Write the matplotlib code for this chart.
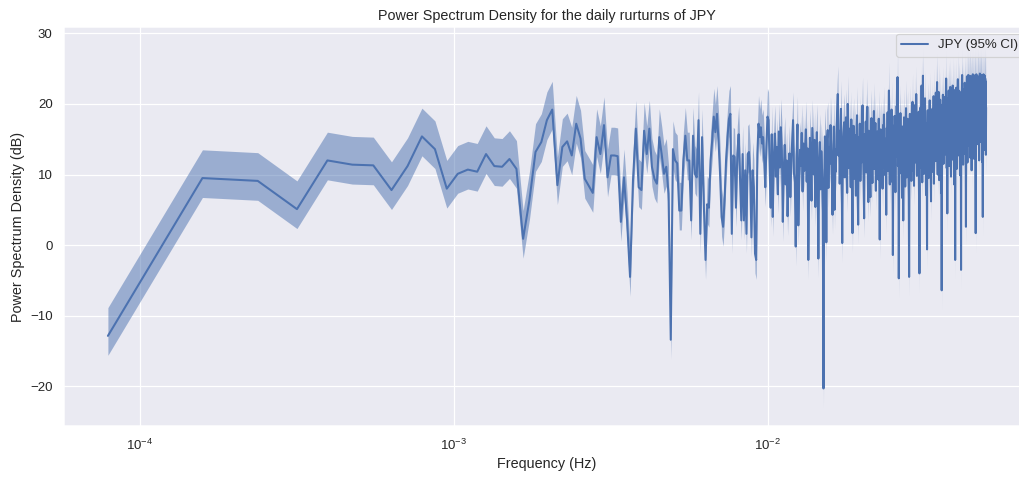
import numpy as np
import matplotlib
matplotlib.use("Agg")
import matplotlib.pyplot as plt
import seaborn as sns

# frequency grid of the periodogram (bin k -> k * freq_step)
freq_step = 7.91e-5
n_bins = 626

# power spectrum density of the daily returns, in dB, one value per bin
psd_db = [
    # k = 1 .. 130
    -12.85, 9.5, 9.1, 5.1, 12.0, 11.4, 11.3, 7.8, 11.2, 15.4,
    13.6, 8.0, 10.1, 10.7, 10.4, 12.9, 11.2, 11.1, 12.2, 10.8,
    0.9, 6.4, 13.2, 14.6, 17.7, 19.2, 8.5, 13.9, 14.7, 12.7,
    17.2, 15.1, 9.4, 8.4, 7.4, 15.3, 12.9, 17.0, 9.6, 12.7,
    12.7, 12.6, 3.3, 9.6, 3.5, -4.5, 9.2, 16.5, 8.2, 7.8,
    16.2, 12.9, 16.5, 11.1, 9.4, 8.7, 15.3, 12.9, 10.1, 11.1,
    7.3, -13.4, 13.6, 12.0, 11.6, 4.9, 4.9, 12.0, 15.5, 12.0,
    12.0, 3.5, 15.5, 10.1, 9.6, 17.7, 1.6, 15.3, 5.8, -2.1,
    5.8, 5.3, 12.0, 14.8, 18.2, 16.0, 18.6, 14.8, 10.1, 4.0,
    2.6, 6.4, 12.0, 15.3, 17.9, 18.6, 1.6, 12.7, 12.5, 5.3,
    12.9, 15.7, 9.6, 3.5, 12.9, 3.5, 10.6, 1.6, 12.9, 13.2,
    10.1, 1.1, 10.6, 8.2, -1.2, -2.1, 12.9, 17.2, 15.3, 16.7,
    14.4, 15.3, 12.0, 8.2, 14.0, 18.2, 17.7, 11.1, 5.3, 15.7,
    # k = 131 .. 300
    4.0, 12.5, 15.8, 9.7, 13.9, 7.2, 16.1, 11.0, 16.7, 13.4,
    3.3, 10.8, 14.2, 8.6, 12.0, 4.1, 9.5, 13.0, 6.8, 11.6,
    14.7, 17.7, 10.2, 8.9, -0.2, 12.4, 17.1, 2.8, 9.3, 13.5,
    11.2, 15.9, 7.6, 14.4, 10.5, 12.8, 16.4, 9.0, 13.7, -2.1,
    8.4, 15.2, 11.9, 6.3, 16.6, 13.1, 10.0, 14.9, 5.4, 12.2,
    16.0, 9.8, -1.9, 11.4, 14.6, 7.9, 13.3, 10.7, 4.6, -20.3,
    9.2, 15.4, 12.6, 0.4, 15.1, 16.3, 8.1, 13.8, 11.5, 17.0,
    14.3, 9.9, 4.3, 12.1, 16.8, 5.0, 13.6, 10.4, 15.5, 18.9,
    21.4, 12.7, 16.2, 8.7, 14.0, 19.3, 11.8, 0.3, 13.2, 15.9,
    17.4, 9.6, 14.8, 18.1, 12.3, 7.4, 20.0, 15.0, 10.9, 16.5,
    13.0, 8.2, 17.8, 11.1, 1.7, 14.5, 16.9, 9.4, 12.9, 15.6,
    7.0, 13.5, 18.4, 10.6, 2.9, 15.3, 12.0, 17.2, 9.1, 14.1,
    11.7, 16.0, 19.8, 13.4, 8.5, 3.8, 15.7, 12.5, 17.5, 10.3,
    14.9, 19.6, 11.3, 6.1, 16.2, 13.9, 9.7, 6.8, 15.2, 18.0,
    12.4, 8.8, 16.7, 14.2, 19.0, 10.8, 13.1, 17.3, 7.7, 15.4,
    11.5, 16.1, 13.6, 9.3, 17.9, 12.8, 0.8, 14.7, 16.4, 10.1,
    15.8, 12.2, 8.0, 17.0, 13.7, 18.5, 11.0, 15.1, 9.9, 14.0,
    # k = 301 .. 430
    4.3, 16.6, 12.9, 18.8, 10.5, 14.4, 21.9, 13.2, 8.6, 17.4,
    15.3, 11.6, 19.2, 9.0, 14.8, -1.4, 12.1, 16.9, 10.7, 18.3,
    13.8, 7.5, 16.3, 12.6, 19.7, 14.6, 23.8, 11.2, 15.7, -4.7,
    9.4, 17.6, 13.0, 18.7, 10.2, 15.9, 12.3, 6.7, 16.8, 14.1,
    3.5, 13.5, 18.1, 11.9, 16.0, 8.3, 14.9, 19.4, 12.7, 9.6,
    15.5, 17.9, 10.9, 13.3, 7.8, -4.5, 14.3, 18.6, 11.4, 16.2,
    12.0, 9.1, 17.1, 14.7, 20.3, 10.6, 15.6, 13.1, 8.4, 18.2,
    16.5, 12.5, 19.9, 11.7, 21.4, 14.2, 9.8, 17.3, 13.6, 15.0,
    10.3, 18.9, 12.8, -4.0, 16.1, 14.5, 19.5, 11.0, 15.2, 22.6,
    13.9, 8.9, 17.7, 24.0, 12.4, 16.7, 10.1, 18.4, 14.0, 20.8,
    11.8, 15.8, 7.1, 17.2, 13.4, -0.6, 16.4, 19.1, 12.2, 15.3,
    9.5, 18.0, 14.6, 20.5, 11.3, 16.9, 13.0, 6.2, 17.6, 15.1,
    12.6, 19.3, 10.4, 16.2, 14.3, 21.1, 8.7, 15.9, 18.7, 13.2,
    # k = 431 .. 626
    17.0, 11.9, 21.6, 15.4, 12.9, 19.8, 23.1, 14.8, 10.0, 18.2,
    16.3, 21.7, 13.7, 9.2, 17.9, 15.0, 20.6, 12.3, 18.8, 7.4,
    14.4, -6.4, 16.6, 19.9, 13.1, 21.3, 17.4, 11.5, 20.2, 15.6,
    18.1, 12.8, 21.0, 16.0, 19.4, 14.2, 23.6, 17.8, 10.9, 20.5,
    4.5, 16.9, 20.8, 13.6, 18.5, 21.9, 15.3, 11.2, 19.6, 17.1,
    22.4, 14.7, 18.0, 9.7, 21.2, 16.4, 13.0, 20.1, 17.5, 22.6,
    12.1, 19.0, 15.8, 22.0, 8.6, 18.3, 14.9, 21.6, -2.1, 16.7,
    19.5, 13.8, 22.3, 17.2, 10.8, 20.4, 15.5, 18.9, 23.5, 12.7,
    16.1, 21.9, 19.2, 14.0, 21.6, 17.7, 9.9, 20.0, 15.2, 18.6,
    -3.5, 16.3, 21.8, 19.7, 24.1, 14.5, 20.9, 17.0, 11.4, 22.1,
    18.4, 15.9, 21.3, 12.9, 23.0, 19.1, 16.6, 22.2, 13.3, 2.6,
    17.5, 22.7, 15.0, 23.9, 18.2, 11.7, 23.8, 16.8, 24.1, 19.4,
    14.1, 23.4, 17.9, 22.3, 24.0, 15.7, 12.4, 23.8, 18.7, 22.6,
    16.2, 23.9, 10.6, 21.8, 23.7, 17.3, 14.8, 24.2, 20.5, 18.0,
    23.5, 15.4, 23.4, 12.2, 21.3, 23.9, 17.6, 24.1, 13.9, 1.7,
    22.6, 18.1, 24.2, 16.5, 23.9, 19.6, 14.3, 23.8, 17.2, 23.9,
    23.1, 15.6, 21.0, 23.4, 12.0, 23.5, 18.5, 24.3, 16.9, 23.7,
    19.9, 24.0, 14.6, 24.1, 22.2, 17.4, 23.8, 11.8, 23.6, 18.3,
    4.0, 23.5, 19.1, 24.2, 16.0, 23.7, 21.8, 13.5, 23.3, 24.0,
    18.8, 23.6, 15.9, 23.2, 12.8, 19.5,
]

# confidence band offsets (dB) around the estimate
ci_upper = 4.0
ci_lower = 2.75

sns.set_theme(style="darkgrid")
plt.rcParams['font.family'] = ['Liberation Sans', 'DejaVu Sans']

freq = np.arange(1, n_bins + 1) * freq_step
psd = np.array(psd_db)

dpi = 86.4
fig = plt.figure(figsize=(1019 / dpi, 484 / dpi), dpi=dpi)
ax = fig.add_axes([0.0628, 0.1198, 0.948, 0.824])

color = sns.color_palette("deep")[0]
ax.plot(freq, psd, color=color, lw=1.7, label='JPY (95% CI)')
ax.fill_between(freq, psd - ci_lower, psd + ci_upper, color=color, alpha=0.5, lw=0)
ax.set_xscale('log')

ax.set_title('Power Spectrum Density for the daily rurturns of JPY')
ax.set_xlabel('Frequency (Hz)')
ax.set_ylabel('Power Spectrum Density (dB)')
ax.legend(loc='upper right')

fig.savefig('out.png', dpi=dpi)
